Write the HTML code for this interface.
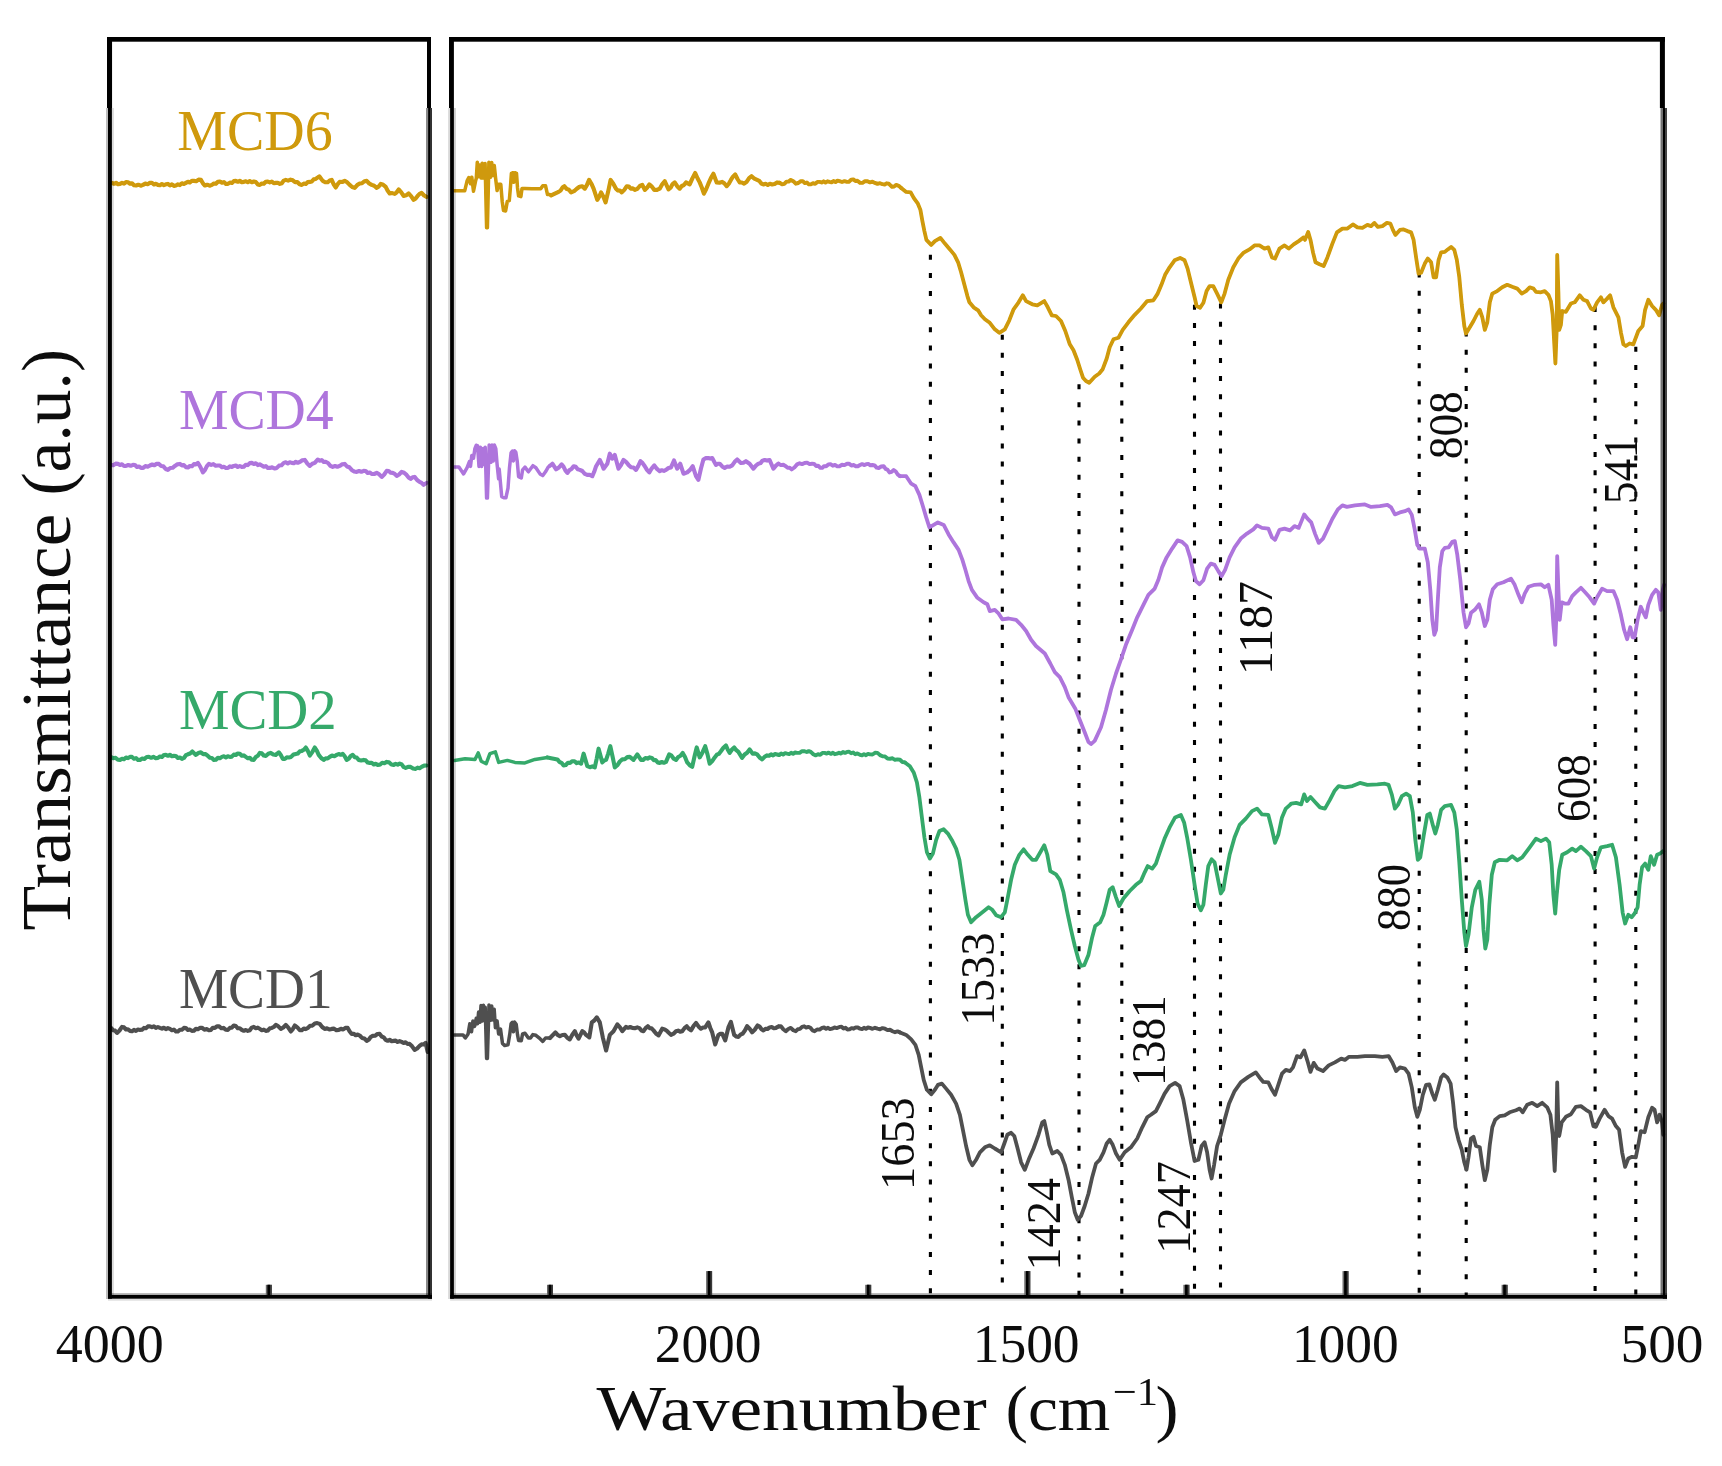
<!DOCTYPE html>
<html lang="en"><head><meta charset="utf-8"><title>FTIR spectra</title>
<style>
html,body{margin:0;padding:0;background:#fff;}
body{width:1722px;height:1466px;overflow:hidden;}
svg{display:block;}
text{font-family:"Liberation Serif","DejaVu Serif",serif;}
</style></head><body>
<svg width="1722" height="1466" viewBox="0 0 1722 1466">
<defs><filter id="soft" x="-2%" y="-2%" width="104%" height="104%"><feGaussianBlur stdDeviation="0.55"/></filter>
<filter id="soft2" x="-2%" y="-2%" width="104%" height="104%"><feGaussianBlur stdDeviation="0.6"/></filter></defs>
<rect x="0" y="0" width="1722" height="1466" fill="#fff"/>

<g stroke="#000" stroke-width="3.1" fill="none" filter="url(#soft2)">
<line x1="930.4" y1="254.8" x2="930.4" y2="1295" stroke-dasharray="5 13.13"/>
<line x1="1002.3" y1="334.7" x2="1002.3" y2="1295" stroke-dasharray="5 13.13"/>
<line x1="1079" y1="384.2" x2="1079" y2="1295" stroke-dasharray="5 13.13"/>
<line x1="1121.8" y1="346.1" x2="1121.8" y2="1295" stroke-dasharray="5 13.13"/>
<line x1="1194.5" y1="304.8" x2="1194.5" y2="1295" stroke-dasharray="5 13.13"/>
<line x1="1220.5" y1="303.5" x2="1220.5" y2="1295" stroke-dasharray="5 13.13"/>
<line x1="1419.2" y1="272.5" x2="1419.2" y2="1295" stroke-dasharray="5 13.13"/>
<line x1="1466.2" y1="331.5" x2="1466.2" y2="1295" stroke-dasharray="5 13.13"/>
<line x1="1595.1" y1="307.0" x2="1595.1" y2="1295" stroke-dasharray="5 13.13"/>
<line x1="1635.8" y1="346.8" x2="1635.8" y2="1295" stroke-dasharray="5 13.13"/>
</g>
<g filter="url(#soft)">
<polyline points="112.0,182.9 114.0,183.8 116.0,182.8 118.0,184.2 120.0,183.9 122.0,182.9 124.0,183.7 126.0,182.1 128.0,182.3 130.0,183.7 132.0,183.3 134.0,185.3 136.0,185.5 138.3,184.7 140.7,185.7 143.0,184.9 145.3,183.6 147.6,184.2 149.9,182.9 151.9,182.8 153.9,184.5 155.9,183.8 157.9,184.9 159.9,185.3 161.9,184.0 163.9,185.1 165.9,184.3 167.9,183.9 169.9,185.4 171.9,184.4 173.9,185.9 175.9,185.5 177.9,184.4 179.9,185.1 181.9,183.3 183.9,184.0 185.9,182.9 187.9,181.8 189.9,182.5 191.9,180.8 193.9,180.9 196.2,181.2 198.6,179.6 200.9,179.9 202.9,183.3 204.9,185.5 207.2,184.7 209.6,185.7 211.9,184.9 213.9,183.5 215.9,183.8 217.9,181.8 219.9,181.5 221.9,182.7 223.9,182.1 225.9,183.9 227.9,183.9 229.9,182.6 231.9,183.0 233.8,181.1 235.8,180.9 237.8,181.8 239.8,180.8 241.8,182.2 243.8,181.9 245.8,181.2 247.8,182.3 249.8,181.1 251.8,182.2 253.8,181.5 255.8,182.0 257.8,184.4 259.8,184.9 261.8,183.5 263.8,183.8 265.8,181.8 267.8,181.5 269.8,182.4 271.8,181.6 273.8,183.2 275.8,182.9 277.8,182.8 279.8,183.9 281.8,183.2 283.8,180.6 285.8,179.9 288.1,180.6 290.5,179.6 292.8,180.3 295.1,182.1 297.3,182.0 299.6,184.3 301.8,184.9 303.8,183.6 305.8,184.0 307.8,182.1 309.8,181.9 311.8,181.5 313.7,179.3 315.7,178.9 319.3,176.3 322.7,180.9 325.2,182.2 327.7,182.3 329.7,180.5 331.7,179.9 333.7,184.3 335.7,187.5 337.7,184.1 339.7,181.9 342.2,182.0 344.7,180.9 347.2,182.3 349.7,184.9 352.2,187.0 354.7,187.9 357.2,185.1 359.7,183.5 362.0,183.2 364.4,181.2 366.7,180.9 369.2,183.5 371.7,184.9 374.2,185.8 376.7,187.9 378.7,186.5 380.7,183.9 383.2,184.8 385.7,186.9 387.7,190.8 389.7,193.5 392.2,193.1 394.7,193.9 396.7,192.3 398.7,189.5 401.1,192.1 403.6,195.9 406.1,195.3 408.6,193.5 411.1,196.1 413.6,199.9 415.6,198.5 417.6,195.9 419.6,193.8 421.6,192.9 424.1,195.5 426.6,196.9" fill="none" stroke="#CF9907" stroke-width="4.1" stroke-linejoin="round" stroke-linecap="round"/>
<polyline points="454.1,190.8 464.7,190.8 467.1,180.9 468.8,177.5 470.5,183.7 471.8,177.2 473.5,191.2 475.6,180.9 476.3,178.2 477.3,162.2 478.5,176.8 479.7,164.9 481.0,177.9 482.2,163.2 483.4,177.9 485.1,163.5 486.6,227.7 487.4,227.7 488.9,162.2 490.6,177.2 491.7,162.5 493.1,175.5 494.3,165.6 495.6,178.2 497.1,190.5 498.8,184.3 500.8,184.3 502.2,201.4 503.5,210.6 505.6,210.9 507.3,201.4 509.3,200.7 510.4,187.7 511.4,173.4 513.1,172.7 513.8,182.3 514.8,172.7 516.5,173.4 517.5,187.7 518.6,195.9 520.9,196.6 522.0,188.4 525.0,188.4 531.9,188.8 540.7,188.8 542.8,185.7 545.5,185.7 547.5,194.6 550.0,194.6 551.1,195.4" fill="none" stroke="#CF9907" stroke-width="3.5" stroke-linejoin="round" stroke-linecap="round"/>
<polyline points="551.1,195.4 558.6,191.9 560.5,190.6 562.5,187.5 564.4,186.2 566.6,188.9 568.9,189.7 571.1,192.4 574.0,191.2 576.8,188.7 579.5,186.8 582.3,186.2 584.8,188.7 587.0,184.9 589.1,179.9 591.4,183.7 593.6,188.7 597.3,199.9 599.2,196.8 601.1,192.4 603.4,196.8 605.6,202.4 608.1,191.8 610.6,179.9 613.3,183.7 616.0,188.7 617.9,190.5 619.9,190.6 621.8,192.4 624.3,189.9 626.8,186.2 628.8,186.5 630.8,188.7 632.8,188.4 634.8,189.9 637.3,188.8 639.8,186.0 642.3,184.9 644.8,189.9 647.0,187.8 649.3,184.4 651.8,186.6 654.3,189.9 657.0,189.9 659.7,188.7 662.2,184.3 664.7,181.2 668.5,189.4 670.6,187.7 672.6,184.1 674.7,182.4 677.2,186.2 679.7,188.7 681.8,186.0 683.9,185.1 686.0,182.4 689.7,184.4 692.5,178.1 695.2,173.0 697.5,178.3 699.7,182.4 701.8,187.5 703.9,193.7 706.1,189.3 708.4,183.7 710.9,178.1 713.4,173.7 716.7,182.4 719.5,182.8 722.2,181.9 724.5,183.5 726.7,186.2 728.8,183.7 730.9,179.9 733.0,176.6 735.2,174.4 737.5,179.0 739.7,182.4 741.9,182.5 744.1,183.7 746.6,181.8 749.1,178.1 751.6,176.2 754.4,178.7 757.1,179.9 759.2,180.8 761.3,183.5 763.4,184.4 765.6,183.8 767.8,185.0 769.9,183.8 772.1,184.4 774.6,184.0 777.1,182.4 779.6,182.8" fill="none" stroke="#CF9907" stroke-width="4.1" stroke-linejoin="round" stroke-linecap="round"/>
<polyline points="779.6,182.8 782.1,184.4 784.3,183.9 786.5,181.6 788.6,181.6 790.8,179.9 793.3,181.2 795.8,183.7 798.3,183.0 800.8,181.2 802.8,181.2 804.8,183.1 806.8,182.5 808.8,184.4 810.8,184.4 813.0,183.2 815.2,183.8 817.4,181.9 819.6,181.9 821.6,182.5 823.6,181.3 825.5,182.5 827.5,181.3 829.5,181.9 831.5,182.4 833.5,181.0 835.5,182.1 837.5,180.7 839.5,181.2 842.0,182.0 844.5,181.1 847.0,181.9 849.1,181.7 851.2,179.6 853.3,179.4 855.4,181.0 857.4,180.8 859.5,182.4 860.0,182.9 862.5,182.9 865.0,181.2 867.5,181.2 870.0,182.4 872.5,181.7 875.0,182.9 877.5,183.9 880.0,183.2 882.5,184.2 884.6,184.6 886.6,183.3 888.7,183.7 892.0,186.9 894.1,186.5 896.2,184.9 898.7,185.8 901.2,187.9" fill="none" stroke="#CF9907" stroke-width="3.9" stroke-linejoin="round" stroke-linecap="round"/>
<polyline points="901.2,187.9 906.2,191.9 910.7,192.4 913.7,197.9 917.9,203.7 920.4,209.9 922.4,221.1 924.4,231.1 926.4,239.9 931.2,244.9 934.9,241.1 940.4,237.9 944.9,243.6 949.9,249.4 954.4,254.9 958.1,262.3 961.1,272.3 964.4,284.8 967.4,296.1 969.4,302.3 973.6,307.3 978.1,310.3 981.1,315.3 984.9,319.3 989.8,322.8 994.8,329.3 999.3,332.8 1004.8,329.3 1009.3,320.3 1013.6,309.3 1018.6,302.3 1022.8,295.3 1026.1,301.1 1032.3,304.3 1037.3,305.3 1044.3,301.1 1047.8,307.3 1051.8,315.3 1056.0,316.0 1061.0,321.0 1065.3,331.0 1069.8,344.3 1073.5,350.2 1077.2,359.7 1080.2,369.2 1083.0,377.7 1086.0,381.0 1089.2,382.7 1094.7,376.7 1099.2,373.5 1102.7,369.2 1106.7,358.5 1109.7,347.2 1113.5,339.3 1118.4,337.8 1122.7,329.8 1128.4,322.3 1134.7,314.8 1140.9,308.5 1147.2,301.1 1153.4,300.3 1157.7,293.6 1161.4,284.8 1165.1,274.8 1169.6,267.3 1174.6,260.3 1180.1,257.9 1184.6,260.3 1187.6,268.6 1190.9,282.3 1194.6,297.3 1196.6,306.0 1200.1,307.8 1203.4,302.8 1206.6,291.1 1209.6,286.1 1213.3,286.1 1217.1,293.6 1221.3,302.3 1224.6,293.6 1228.3,279.8 1233.3,267.3 1238.3,258.6 1243.3,252.9 1249.5,249.4 1254.5,245.4 1259.5,245.4 1264.5,248.6 1268.3,247.4 1272.0,257.4 1275.0,258.6 1279.5,248.6 1284.5,245.4 1288.7,248.6 1293.7,244.4 1298.7,241.1 1303.7,237.4 1305.0,239.9 1308.2,231.9 1310.5,239.9 1313.0,252.4 1315.5,262.3 1319.5,264.3 1323.7,266.1 1327.4,257.4 1332.4,243.6 1336.9,232.4 1342.4,228.6 1347.4,228.6 1352.9,224.4 1357.4,227.4 1362.4,227.9 1367.4,224.9 1371.1,226.1 1374.4,222.9 1377.9,226.9 1382.4,226.1 1386.9,222.9 1390.4,223.6 1392.9,229.9 1395.4,234.9 1399.9,229.9 1403.6,229.4 1407.4,231.1 1411.1,232.4 1413.6,239.9 1416.1,257.4 1418.6,273.6 1421.1,272.8 1424.8,263.6 1427.8,258.6 1431.1,262.3 1433.6,277.3 1436.1,277.3 1438.6,259.8 1441.1,252.4 1444.8,251.9 1447.8,249.4 1451.1,246.9 1454.3,249.9 1456.8,259.8 1459.3,277.3 1461.8,304.8 1464.3,326.0 1466.0,333.5 1469.8,327.3 1473.5,321.0 1477.3,313.5 1479.8,309.8 1482.3,317.3 1484.8,329.8 1487.3,322.3 1489.8,302.3 1492.3,293.6 1497.2,291.1 1502.2,287.3 1507.2,284.8 1512.2,286.8 1517.2,288.6 1521.7,293.6 1526.0,291.1 1529.7,287.3 1533.5,288.6 1536.0,291.8 1540.9,292.3 1544.7,291.1 1548.4,294.8 1550.9,301.1 1552.7,314.8 1554.2,342.3 1555.4,363.5 1556.7,329.8 1557.2,254.9 1558.4,292.3 1559.2,329.8 1560.9,324.8 1562.2,311.0 1565.9,311.8 1570.9,303.5 1574.7,302.3 1579.7,295.3 1583.4,299.8 1587.1,301.1 1590.9,308.5 1593.4,309.8 1597.1,302.3 1600.9,297.3 1603.4,302.3 1607.1,298.6 1610.1,295.3 1613.4,307.3 1618.4,317.3 1620.9,332.3 1623.4,344.3 1625.8,346.0 1629.6,343.5 1633.3,344.3 1638.3,331.0 1642.6,326.0 1645.1,309.8 1648.3,299.8 1652.1,306.0 1655.8,309.8 1659.1,315.3 1662.1,304.8 1663.3,303.5" fill="none" stroke="#CF9907" stroke-width="3.8" stroke-linejoin="round" stroke-linecap="round"/>
<polyline points="111.0,464.9 113.3,465.2 115.7,463.6 118.0,463.9 120.0,465.0 122.0,464.3 124.0,466.0 126.0,465.9 128.3,465.0 130.7,465.8 133.0,464.9 135.0,465.0 137.0,467.0 139.0,466.5 141.0,467.9 143.2,467.9 145.4,466.1 147.7,466.7 149.9,465.5 152.2,464.5 154.4,465.3 156.7,463.7 158.9,463.9 161.2,466.0 163.4,466.3 165.7,469.0 167.9,469.9 170.2,468.0 172.6,467.8 174.9,465.9 177.4,464.3 179.9,463.9 181.9,465.4 183.9,465.1 185.9,467.2 187.9,467.5 189.9,466.0 191.9,466.3 193.9,464.1 195.9,464.4 197.9,462.9 200.4,467.0 202.9,472.3 204.9,470.1 206.9,466.1 208.9,463.9 211.2,464.9 213.4,464.1 215.7,465.7 217.9,465.5 219.9,465.5 221.9,467.3 223.9,466.7 225.9,467.9 227.9,468.0 229.9,466.3 231.8,467.0 233.8,465.9 235.8,465.5 237.8,467.0 239.8,466.0 241.8,466.9 243.8,466.7 245.8,464.7 247.8,465.1 249.8,463.1 251.8,462.9 253.8,464.0 255.8,463.3 257.8,465.1 259.8,464.4 261.8,465.5 263.8,466.7 265.8,466.1 267.8,467.9 269.8,467.9 272.1,467.3 274.5,468.5 276.8,467.9 279.1,465.6 281.5,465.2 283.8,462.9 285.8,462.3 287.8,463.5 289.8,462.3 291.8,462.9 293.8,463.2 295.8,461.8 297.8,462.8 299.8,461.9 302.3,460.3 304.8,459.9 307.3,463.5 309.8,465.9 312.3,463.8 314.8,462.9 317.7,459.5 319.7,460.7 321.7,460.1 323.7,461.9 325.7,461.9 328.0,463.0 330.4,465.8 332.7,466.9 335.0,466.0 337.4,466.8 339.7,465.9 342.2,464.3 344.7,463.9 347.0,466.5 349.4,467.3 351.7,469.9 354.2,471.5 356.7,471.9 359.0,471.0 361.4,471.8 363.7,470.9 365.7,471.0 367.7,473.0 369.7,472.5 371.7,473.9 374.2,474.0 376.7,472.9 379.2,474.3 381.7,476.9 384.2,474.5 386.7,470.9 388.7,471.0 390.7,472.8 392.7,472.9 394.7,473.8 396.7,475.9 399.1,474.5 401.6,471.9 404.1,472.8 406.6,474.9 408.6,477.5 410.6,478.9 412.6,477.3 414.6,476.9 417.1,480.0 419.6,481.9 421.6,482.8 423.6,484.9 426.6,482.9" fill="none" stroke="#AE74DC" stroke-width="4.1" stroke-linejoin="round" stroke-linecap="round"/>
<polyline points="454.1,467.1 458.9,467.1 463.6,473.9 467.1,467.7 469.4,461.6 470.5,466.4 471.8,455.5 473.5,458.2 474.9,448.6 476.3,445.2 477.6,445.9 479.0,466.4 480.4,447.3 481.7,466.4 483.1,448.6 483.9,464.3 485.2,447.3 486.6,498.1 487.4,498.1 489.2,444.9 490.9,462.3 492.0,444.9 493.3,460.9 494.3,444.9 495.8,448.6 497.1,464.3 498.6,478.7 499.2,469.1 501.7,496.7 503.9,497.8 505.9,497.8 508.0,488.2 509.5,467.7 511.1,452.7 512.4,451.0 513.4,460.9 514.5,450.7 515.8,452.1 517.2,460.9 518.6,476.6 521.3,478.0 522.6,469.8 525.0,467.1 528.4,471.8 532.9,465.7 535.9,467.7 540.0,473.9 542.8,475.6 545.5,471.8 548.2,467.1 550.0,465.7" fill="none" stroke="#AE74DC" stroke-width="3.5" stroke-linejoin="round" stroke-linecap="round"/>
<polyline points="550.0,465.7 552.4,463.7 556.1,469.4 558.9,467.5 561.6,464.4 563.5,466.6 565.5,470.7 567.4,472.9 569.5,470.1 571.5,469.0 573.6,466.2 575.7,466.8 577.7,469.3 579.8,469.9 582.3,471.0 584.8,473.8 587.3,474.9 589.8,474.9 592.3,476.2 594.2,471.8 596.1,466.2 599.8,460.0 601.7,463.8 603.6,468.7 607.3,463.7 609.8,453.7 612.3,458.7 614.8,455.0 618.5,468.7 621.0,465.0 623.5,460.0 626.0,461.8 628.5,464.9 631.0,467.2 633.5,467.6 636.0,469.9 638.2,466.1 640.5,461.2 642.6,463.1 644.8,466.2 647.0,469.9 649.3,472.4 651.8,468.3 654.3,465.4 657.0,468.9 659.7,471.2 661.8,470.2 663.9,470.9 666.0,469.9 668.5,468.0 671.0,467.4 674.0,460.5 677.2,468.7 680.2,463.7 683.5,473.7 687.2,472.4 690.0,469.9 692.7,466.2 696.0,476.2 698.4,479.9 700.9,468.7 703.4,459.5 705.9,458.1 708.4,458.0 710.3,458.6 712.2,458.0 715.9,464.9 717.8,463.7 719.7,463.7 722.2,466.4 724.7,467.9 727.2,466.5 729.7,466.8 732.2,465.4 734.7,461.8 737.2,459.5 740.9,463.0 743.4,462.7 745.9,461.2 749.6,463.7 753.4,468.7 755.9,465.6 758.4,463.7 760.5,463.1 762.5,460.6 764.6,460.0 767.1,460.6 769.6,460.0 773.4,468.7 775.9,465.6 778.4,463.7" fill="none" stroke="#AE74DC" stroke-width="4.1" stroke-linejoin="round" stroke-linecap="round"/>
<polyline points="778.4,463.7 780.9,465.1 783.3,464.8 785.8,466.2 787.7,467.9 789.7,467.7 791.6,469.4 794.4,467.5 797.1,464.4 799.6,463.3 802.1,464.1 804.6,463.0 807.1,462.6 809.6,464.1 812.1,463.7 814.1,463.9 816.1,466.0 818.1,465.6 820.1,467.7 822.1,467.9 824.2,466.1 826.2,466.2 828.3,464.4 830.5,464.2 832.8,465.7 835.0,464.9 837.3,466.4 839.5,466.2 842.0,464.8 844.5,465.1 847.0,463.7 849.2,463.7 851.4,465.6 853.6,465.0 855.8,466.2 857.9,466.2 860.0,465.0 862.1,464.1 864.1,465.1 866.2,464.2 868.3,463.9 870.4,465.3 872.5,465.0 874.6,465.4 876.6,467.6 878.7,468.0 881.2,466.5 883.7,466.2 885.6,468.9 887.6,469.8 889.5,472.5 891.6,471.9 893.7,470.0 895.8,471.5 897.9,474.7 900.0,476.2" fill="none" stroke="#AE74DC" stroke-width="3.9" stroke-linejoin="round" stroke-linecap="round"/>
<polyline points="900.0,476.2 906.2,476.2 911.2,483.7 915.4,486.2 919.4,494.9 922.9,506.2 926.2,517.4 929.4,527.4 933.7,524.9 937.9,522.4 943.7,524.9 948.6,534.4 953.6,542.4 958.6,549.9 962.4,559.9 965.4,569.8 968.6,581.1 971.9,589.8 977.4,597.8 983.6,602.3 987.4,604.3 989.8,611.1 994.8,609.8 998.6,613.5 1002.3,619.3 1008.6,618.5 1016.1,619.8 1021.1,624.8 1026.1,631.0 1031.1,639.8 1036.0,646.0 1044.8,653.5 1050.3,663.5 1054.8,672.2 1059.8,677.2 1064.8,687.2 1068.5,697.2 1075.2,708.4 1079.7,719.7 1084.7,732.2 1088.5,742.1 1091.0,744.1 1094.7,740.9 1101.0,727.2 1106.0,709.7 1111.0,689.7 1116.0,673.5 1120.9,659.7 1125.9,644.8 1132.2,629.8 1137.2,617.3 1143.4,604.8 1148.4,594.8 1154.7,588.6 1158.4,579.8 1162.1,567.4 1166.6,557.4 1172.1,548.6 1177.6,540.4 1182.1,541.9 1186.6,546.1 1190.1,557.4 1193.4,572.3 1195.9,581.1 1199.6,584.3 1203.4,580.3 1207.1,568.6 1210.8,563.6 1214.6,564.9 1218.3,571.1 1221.6,576.1 1225.1,569.8 1229.6,557.4 1234.6,547.4 1240.8,538.6 1247.0,533.6 1253.3,529.4 1257.0,525.4 1262.0,527.9 1268.3,528.6 1272.0,537.4 1275.0,539.9 1279.5,529.9 1284.5,528.6 1290.0,530.4 1294.5,526.1 1298.7,527.9 1302.0,519.9 1304.2,514.4 1307.5,518.7 1311.2,522.4 1315.0,533.6 1318.7,542.9 1323.0,538.6 1327.4,529.4 1332.4,518.7 1337.9,509.4 1342.4,505.4 1346.9,506.9 1354.9,505.4 1364.9,504.4 1371.1,506.9 1379.9,506.2 1387.4,504.9 1391.1,507.4 1394.9,514.4 1399.9,512.4 1404.9,511.2 1408.6,509.4 1411.8,514.9 1414.8,529.9 1417.3,544.9 1419.8,548.6 1424.8,548.6 1427.8,562.4 1430.3,589.8 1432.3,619.8 1434.3,634.8 1436.1,629.8 1437.8,599.8 1439.8,567.4 1442.3,551.1 1444.8,547.9 1448.6,547.4 1452.3,541.9 1454.8,541.1 1457.3,554.9 1460.3,579.8 1463.5,612.3 1466.0,627.3 1468.5,623.5 1471.0,612.8 1474.8,609.8 1479.0,604.3 1481.8,612.3 1484.8,626.0 1487.3,619.8 1489.8,599.8 1492.8,589.3 1497.2,584.3 1503.5,582.3 1511.0,578.6 1514.7,584.8 1518.5,594.8 1521.7,602.3 1524.7,593.6 1528.5,586.8 1534.7,584.8 1540.9,584.3 1544.7,587.3 1548.4,584.8 1551.7,599.8 1553.4,624.8 1555.2,644.8 1556.4,614.8 1557.2,556.1 1558.4,589.8 1559.7,619.8 1561.7,602.3 1564.7,603.6 1568.4,603.6 1572.2,596.1 1575.9,592.3 1580.9,587.8 1585.1,592.3 1589.6,597.3 1594.1,603.6 1597.1,597.3 1602.1,588.6 1607.1,591.1 1613.4,591.1 1617.1,599.8 1620.9,614.8 1624.1,629.8 1627.1,639.3 1630.3,627.3 1632.6,637.3 1634.6,637.3 1637.6,619.8 1640.8,606.8 1643.3,612.3 1645.8,617.3 1648.3,604.8 1652.1,594.8 1655.8,589.8 1658.3,592.3 1660.8,609.8 1662.8,589.8 1664.1,584.8" fill="none" stroke="#AE74DC" stroke-width="3.8" stroke-linejoin="round" stroke-linecap="round"/>
<polyline points="111.0,756.9 113.2,758.2 115.5,757.8 117.8,759.8 120.0,759.9 122.0,758.7 124.0,759.3 126.0,757.5 128.0,758.1 130.0,756.9 132.0,756.9 134.0,758.7 136.0,758.1 138.0,759.9 140.0,759.9 142.2,758.5 144.4,759.0 146.7,757.0 148.9,756.9 151.2,757.8 153.4,756.8 155.7,758.2 157.9,757.9 159.9,756.5 161.9,757.0 163.9,755.0 165.9,754.9 167.9,755.8 169.9,754.8 171.9,756.2 173.9,755.9 175.9,756.0 177.9,758.0 179.9,757.5 181.9,758.9 183.9,758.0 185.9,755.2 187.9,754.3 190.1,753.5 192.3,751.5 195.9,754.9 198.4,753.0 200.9,752.3 203.2,754.1 205.6,754.1 207.9,755.9 209.9,757.8 211.9,758.0 213.9,759.9 215.9,759.8 217.9,757.8 219.9,758.2 221.9,756.9 223.9,756.3 225.9,757.5 227.8,756.3 229.8,756.9 231.8,756.6 233.8,754.6 235.8,755.0 237.8,753.5 239.8,753.8 241.8,755.8 243.8,755.4 245.8,756.9 247.8,758.2 249.8,757.8 251.8,759.8 253.8,759.9 255.8,757.0 257.8,755.8 259.8,752.9 261.8,753.3 263.8,755.5 265.8,755.9 268.3,753.8 270.8,752.9 273.3,754.5 275.8,754.9 278.8,752.3 280.8,755.0 282.8,758.9 284.8,759.0 286.8,757.4 288.8,757.5 291.1,756.9 293.5,754.5 295.8,753.9 297.8,753.5 299.8,751.3 301.8,750.9 303.8,749.8 305.8,747.5 307.8,750.9 309.8,755.5 312.3,752.1 314.8,747.5 316.8,750.6 318.7,754.9 321.2,758.0 323.7,759.9 325.7,758.3 327.7,758.5 329.7,756.9 332.0,755.6 334.4,756.2 336.7,754.9 338.7,754.0 340.7,754.8 342.7,753.9 344.7,756.3 346.7,759.9 348.7,758.8 350.7,756.0 352.7,754.9 354.7,757.2 356.7,757.6 358.7,759.9 361.2,760.5 363.7,759.9 365.7,760.3 367.7,762.5 369.7,762.9 371.7,762.8 373.7,764.5 375.7,763.8 377.7,764.9 379.9,764.8 382.2,762.8 384.4,763.2 386.7,761.9 389.0,762.3 391.4,764.5 393.7,764.9 395.7,763.8 397.7,764.6 399.7,763.5 401.7,764.4 403.6,767.0 405.6,767.9 408.1,766.8 410.6,766.9 413.1,768.5 415.6,768.9 417.6,767.6 419.6,768.2 421.6,766.9 424.1,765.6 426.6,765.5" fill="none" stroke="#35A96B" stroke-width="4.1" stroke-linejoin="round" stroke-linecap="round"/>
<polyline points="454.5,760.4 465.0,758.7 475.0,759.4 478.2,752.9 481.2,761.2 486.2,763.7 489.9,753.7 495.4,751.9 498.7,762.4 507.4,760.4 514.9,762.4 524.9,762.9 534.9,759.4 547.4,757.4" fill="none" stroke="#35A96B" stroke-width="3.5" stroke-linejoin="round" stroke-linecap="round"/>
<polyline points="547.4,757.4 557.4,759.4 559.5,762.0 561.5,762.8 563.6,765.4 565.8,765.0 568.0,762.7 570.1,762.9 572.3,761.2 574.5,761.2 576.7,763.1 578.9,762.5 581.1,763.7 583.6,753.7 587.3,766.2 589.8,767.2 592.3,766.4 594.8,767.4 596.7,758.6 598.6,748.7 602.3,762.4 604.2,760.5 606.1,759.9 608.2,753.6 610.3,746.2 612.5,756.2 614.8,767.4 617.3,765.3 619.8,761.5 622.3,759.4 624.8,759.2 627.3,757.1 629.8,756.9 633.5,759.9 637.3,754.4 641.0,759.9 643.2,759.9 645.4,758.0 647.6,758.6 649.8,757.4 651.8,757.9 653.8,760.2 655.7,760.1 657.7,762.4 659.7,762.9 661.8,762.0 663.9,762.8 666.0,761.9 669.2,754.4 671.5,755.6 673.7,758.7 676.0,759.9 678.2,757.0 680.5,755.8 682.7,752.9 685.0,757.0 687.2,762.4 689.7,765.2 692.2,766.9 694.5,756.5 696.7,747.4 699.7,757.4 702.5,752.4 705.2,746.2 707.5,754.4 709.7,763.7 712.2,761.1 714.7,757.4 716.8,754.7 718.8,753.9 720.9,751.2 723.4,747.7 725.9,745.4 727.8,749.8 729.7,752.9 732.0,749.5 734.2,747.4 736.3,750.2 738.4,751.9 742.1,757.9 744.6,754.5 747.1,752.8 749.6,749.4 752.6,753.7 754.9,753.4 757.1,754.4 759.6,757.5 762.1,759.4 764.6,756.8 767.1,755.4 769.1,755.8 771.1,754.4 773.1,755.4 775.1,754.0 777.1,754.4 779.1,754.9" fill="none" stroke="#35A96B" stroke-width="4.1" stroke-linejoin="round" stroke-linecap="round"/>
<polyline points="779.1,754.9 781.1,753.5 783.1,754.6 785.1,753.2 787.1,753.7 789.1,754.1 791.1,752.8 793.1,753.8 795.1,752.5 797.1,752.9 799.6,752.9 802.1,751.2 804.6,751.2 806.7,752.0 808.7,751.1 810.8,751.9 813.3,754.2 815.8,755.4 818.0,754.2 820.2,754.8 822.4,752.9 824.6,752.9 826.7,753.6 828.7,752.6 830.8,753.9 832.9,752.8 834.9,754.2 837.0,753.7 839.0,752.7 841.0,753.6 843.0,752.0 845.0,752.9 847.0,751.9 849.1,751.7 851.2,753.3 853.2,752.5 855.3,754.2 857.4,753.4 859.5,754.4 860.0,754.9 862.0,755.4 864.0,754.1 866.0,755.2 868.0,753.9 870.0,754.4 872.5,754.5 875.0,752.8 877.5,752.9 880.0,755.1 882.5,756.2 885.0,756.4 887.5,758.5 890.0,758.7 892.5,758.3 895.0,759.8 897.5,759.4 900.0,759.8 902.4,762.0 904.9,762.4" fill="none" stroke="#35A96B" stroke-width="3.9" stroke-linejoin="round" stroke-linecap="round"/>
<polyline points="904.9,762.4 909.9,766.2 913.7,772.4 916.9,782.4 919.4,797.4 921.9,817.4 924.4,837.3 926.9,852.3 929.9,858.6 932.9,853.6 936.2,839.8 939.4,831.1 943.7,829.3 947.9,833.6 952.4,841.1 956.1,848.6 959.4,859.8 962.4,879.8 965.4,899.8 967.9,914.8 971.1,922.2 976.1,917.2 982.4,912.3 988.6,907.3 992.3,909.8 996.1,915.2 1001.1,917.2 1004.8,912.3 1007.8,897.3 1011.1,879.8 1014.8,864.8 1019.3,854.8 1023.6,849.3 1027.8,854.8 1032.3,859.8 1036.0,859.8 1040.3,852.3 1044.3,845.3 1047.3,854.8 1050.3,871.1 1056.0,874.3 1059.8,879.8 1063.5,892.3 1066.8,909.8 1071.0,929.7 1074.8,946.0 1078.5,959.7 1081.0,965.9 1084.2,965.2 1088.5,954.7 1092.2,937.2 1095.2,926.0 1100.2,922.2 1103.5,914.8 1106.7,902.3 1109.7,889.8 1112.7,887.3 1116.0,897.3 1119.2,906.0 1123.4,898.5 1129.7,891.0 1135.9,884.8 1140.9,881.0 1144.7,872.3 1147.7,866.1 1152.2,868.6 1155.9,863.6 1159.7,852.3 1164.6,838.6 1169.6,827.4 1175.1,817.4 1180.9,814.9 1184.1,822.4 1187.1,837.3 1190.9,859.8 1194.6,884.8 1197.6,903.5 1200.9,910.3 1203.4,904.8 1205.8,884.8 1208.3,866.1 1211.6,859.3 1214.6,862.3 1217.6,877.3 1220.8,893.5 1223.3,889.8 1225.8,874.8 1229.6,854.8 1234.6,837.3 1239.6,824.9 1245.8,818.6 1252.0,811.1 1257.0,808.6 1262.0,814.4 1268.3,814.9 1271.5,827.4 1275.0,842.8 1278.3,834.8 1282.0,817.4 1285.8,808.6 1290.0,804.9 1291.2,803.6 1296.2,802.9 1301.2,804.4 1304.2,794.4 1307.0,801.1 1310.5,796.9 1315.0,801.9 1320.0,807.4 1324.9,808.6 1329.9,799.9 1334.4,791.1 1338.7,786.1 1344.9,787.4 1352.4,786.1 1359.9,782.9 1367.4,784.9 1377.4,784.4 1384.9,783.7 1388.6,784.9 1391.9,794.9 1394.9,808.6 1397.9,804.9 1401.9,796.1 1406.1,793.6 1409.8,796.1 1412.8,812.4 1415.3,839.8 1417.8,859.8 1420.3,857.3 1423.6,836.1 1427.3,814.9 1429.8,813.6 1432.8,824.9 1435.3,833.6 1437.8,824.9 1441.1,809.9 1444.8,806.1 1451.1,804.9 1454.3,812.4 1456.8,829.8 1459.3,862.3 1461.8,899.8 1464.3,932.2 1466.0,946.0 1468.5,934.7 1471.8,907.3 1475.3,889.8 1479.3,881.8 1481.8,899.8 1483.5,929.7 1485.3,948.5 1487.3,939.7 1489.3,904.8 1491.8,874.8 1494.8,862.3 1499.7,859.8 1507.2,860.3 1512.2,856.1 1517.2,860.3 1522.2,857.3 1529.7,847.3 1536.0,838.6 1540.9,841.1 1545.9,838.6 1549.2,842.3 1551.7,864.8 1553.4,894.8 1555.2,913.5 1556.7,894.8 1559.2,869.8 1562.2,854.8 1567.2,852.3 1572.2,848.6 1575.9,851.1 1580.9,846.8 1585.9,851.1 1590.9,856.1 1594.1,868.6 1597.1,857.3 1600.9,847.3 1607.1,846.1 1612.1,844.8 1615.9,857.3 1619.6,884.8 1622.6,912.3 1625.1,923.5 1628.3,914.8 1631.6,917.2 1634.6,913.5 1637.6,907.3 1639.6,884.8 1642.1,867.3 1645.1,863.6 1648.3,869.8 1650.8,856.1 1654.1,864.8 1657.1,854.8 1660.1,853.6 1663.3,851.1" fill="none" stroke="#35A96B" stroke-width="3.8" stroke-linejoin="round" stroke-linecap="round"/>
<polyline points="111.0,1027.9 113.0,1030.2 115.0,1030.6 117.0,1032.9 119.5,1030.5 122.0,1026.9 124.0,1027.3 126.0,1029.5 128.0,1029.3 130.0,1030.9 132.0,1031.3 134.0,1029.9 136.0,1030.9 138.0,1029.5 140.0,1029.9 142.0,1029.8 144.0,1027.9 145.9,1028.3 147.9,1026.4 149.9,1026.3 151.9,1027.2 153.9,1026.3 155.9,1027.9 157.9,1027.0 159.9,1027.9 161.9,1028.7 163.9,1027.7 165.9,1029.1 167.9,1028.1 169.9,1028.9 171.9,1030.2 173.9,1029.6 175.9,1031.4 177.9,1031.5 179.9,1029.7 181.9,1029.7 183.9,1027.9 185.9,1028.1 187.9,1030.0 189.9,1029.6 191.9,1030.9 193.9,1030.8 195.9,1028.8 197.9,1029.2 199.9,1027.9 202.2,1027.9 204.4,1029.7 206.7,1029.1 208.9,1030.3 210.9,1029.9 212.9,1027.7 214.9,1027.9 216.9,1026.3 219.1,1026.4 221.3,1028.3 223.5,1027.9 225.7,1029.8 227.9,1029.9 229.9,1027.8 231.8,1027.6 233.8,1025.5 235.8,1026.0 237.8,1028.3 239.8,1028.2 241.8,1029.9 243.8,1030.8 245.8,1030.0 247.8,1030.9 249.8,1030.2 251.8,1027.6 253.8,1026.9 255.8,1028.2 257.8,1027.6 259.8,1028.9 261.8,1030.2 263.8,1029.6 265.8,1030.9 267.8,1030.5 269.8,1028.3 271.8,1027.9 273.8,1027.0 275.8,1024.9 278.3,1026.3 280.8,1028.9 283.3,1027.5 285.8,1024.9 288.3,1027.6 290.8,1031.5 292.8,1029.1 294.8,1025.5 297.3,1027.3 299.8,1030.3 301.8,1030.3 303.8,1028.5 305.8,1029.1 307.8,1027.9 310.1,1025.8 312.5,1025.6 314.8,1023.5 317.2,1023.1 319.7,1023.9 322.2,1027.0 324.7,1028.9 327.0,1028.3 329.4,1029.5 331.7,1028.9 334.0,1028.6 336.4,1030.2 338.7,1029.9 340.9,1028.8 343.2,1029.5 345.4,1027.8 347.7,1027.9 349.7,1031.5 351.7,1033.9 353.7,1033.7 355.7,1035.3 357.7,1034.5 359.7,1035.5 362.0,1037.9 364.4,1038.5 366.7,1040.9 368.7,1039.8 370.7,1037.0 372.7,1035.9 375.0,1035.8 377.4,1034.0 379.7,1033.9 381.7,1036.5 383.7,1037.3 385.7,1039.9 387.7,1040.8 389.7,1039.8 391.7,1041.2 393.7,1040.9 395.7,1040.6 397.6,1042.0 399.6,1041.1 401.6,1041.9 403.6,1043.0 405.6,1042.3 407.6,1044.0 409.6,1043.9 412.1,1046.3 414.6,1049.9 417.1,1048.5 419.6,1045.9 421.6,1044.3 423.6,1044.5 425.6,1042.9 427.6,1051.9" fill="none" stroke="#4F4F4F" stroke-width="4.1" stroke-linejoin="round" stroke-linecap="round"/>
<polyline points="454.1,1034.9 463.0,1034.9 465.3,1038.0 468.1,1033.9 469.8,1023.7 471.5,1031.8 472.9,1020.9 474.6,1026.4 476.3,1018.2 477.6,1023.7 478.6,1012.1 480.0,1022.3 481.0,1005.6 482.4,1020.9 483.4,1005.2 484.1,1020.2 485.2,1007.3 486.6,1058.4 487.4,1058.4 489.0,1004.9 490.8,1020.2 491.7,1005.9 493.1,1019.9 494.2,1009.3 495.4,1027.7 497.1,1020.9 498.6,1033.9 500.5,1029.1 502.5,1043.4 504.6,1045.5 508.0,1044.8 509.7,1034.6 511.1,1023.7 512.4,1022.3 513.4,1031.8 514.5,1022.0 516.2,1024.3 517.5,1034.6 518.6,1040.4 521.3,1040.7 522.6,1033.9 525.0,1033.2 528.4,1038.0 530.5,1038.0 532.9,1034.6 535.9,1035.3 540.0,1038.7 542.8,1041.4 545.5,1038.0 550.0,1038.0" fill="none" stroke="#4F4F4F" stroke-width="3.5" stroke-linejoin="round" stroke-linecap="round"/>
<polyline points="550.0,1038.0 555.4,1032.4 557.6,1034.9 559.9,1036.2 562.4,1035.0 564.9,1034.9 567.3,1037.8 569.8,1039.4 572.3,1034.7 574.8,1031.2 576.7,1035.5 578.6,1038.7 582.3,1031.2 584.2,1032.5 586.1,1034.9 589.3,1037.4 591.8,1022.4 594.3,1020.5 596.8,1017.4 599.8,1022.4 602.8,1037.4 606.1,1050.4 609.8,1034.9 613.5,1031.2 617.3,1024.4 619.8,1027.2 622.3,1031.2 626.0,1026.9 628.1,1027.8 630.2,1027.0 632.3,1027.9 634.8,1028.2 637.3,1027.4 639.4,1028.1 641.4,1030.5 643.5,1031.2 645.6,1028.1 647.8,1026.2 649.7,1028.2 651.6,1028.4 653.5,1030.4 656.0,1033.5 658.5,1035.4 662.2,1028.7 664.7,1029.4 667.2,1031.2 671.0,1034.9 673.5,1033.7 676.0,1031.2 678.1,1030.6 680.1,1031.8 682.2,1031.2 684.5,1028.1 686.7,1026.2 688.9,1028.9 691.0,1030.4 693.5,1026.1 696.0,1022.9 698.5,1026.4 700.9,1028.7 703.0,1027.5 705.2,1027.4 708.4,1022.4 710.3,1028.0 712.2,1032.4 715.2,1044.4 718.4,1034.9 720.3,1033.7 722.2,1033.7 725.2,1040.4 728.4,1027.4 730.9,1021.9 734.2,1034.9 736.3,1036.5 738.4,1036.9 740.5,1034.7 742.6,1033.7 744.9,1030.5 747.1,1026.2 749.6,1028.7 752.1,1032.4 754.9,1029.5 757.6,1025.4 759.5,1026.5 761.5,1029.3 763.4,1030.4 765.5,1028.8 767.5,1029.0 769.6,1027.4 771.7,1027.0 773.8,1028.3 775.9,1027.9 778.4,1026.5" fill="none" stroke="#4F4F4F" stroke-width="4.1" stroke-linejoin="round" stroke-linecap="round"/>
<polyline points="778.4,1026.5 780.9,1026.2 783.3,1029.3 785.8,1031.2 788.3,1029.0 790.8,1027.9 793.3,1030.2 795.8,1031.2 797.9,1029.2 800.0,1028.9 802.1,1026.9 804.2,1026.3 806.2,1027.5 808.3,1026.9 810.4,1027.7 812.5,1030.4 814.6,1031.2 817.1,1029.5 819.6,1029.6 822.1,1027.9 824.1,1027.5 826.1,1028.8 828.0,1027.8 830.0,1029.1 832.0,1028.7 834.5,1027.5 837.0,1028.1 839.5,1026.9 841.5,1026.8 843.5,1028.5 845.5,1027.8 847.5,1029.5 849.5,1029.4 851.6,1028.1 853.7,1028.7 855.8,1027.4 857.9,1027.5 860.0,1028.7 862.0,1029.1 864.0,1027.8 866.0,1028.8 868.0,1027.5 870.0,1027.9 872.5,1028.8 875.0,1027.8 877.5,1028.7 880.0,1029.3 882.5,1028.1 885.0,1028.7 887.5,1030.1 890.0,1029.8 892.5,1031.2 895.0,1032.2 897.5,1031.4 900.0,1032.4" fill="none" stroke="#4F4F4F" stroke-width="3.9" stroke-linejoin="round" stroke-linecap="round"/>
<polyline points="900.0,1032.4 906.2,1034.9 911.2,1039.4 915.4,1044.9 918.7,1054.9 921.2,1067.4 923.7,1079.9 926.9,1089.8 931.2,1094.3 934.9,1089.8 937.9,1084.9 941.9,1083.6 946.1,1088.6 951.1,1094.8 956.1,1103.6 959.9,1114.8 962.9,1129.8 966.1,1146.0 969.4,1159.8 972.4,1165.3 976.1,1159.8 979.9,1152.3 984.9,1147.3 989.8,1145.3 994.8,1148.5 1001.1,1152.3 1004.3,1143.5 1007.3,1134.8 1011.1,1132.8 1014.3,1136.0 1017.3,1147.3 1021.1,1162.3 1024.8,1169.8 1028.6,1159.8 1033.5,1148.5 1038.5,1134.8 1042.3,1122.3 1044.3,1121.1 1046.8,1132.3 1049.3,1144.8 1052.3,1153.5 1057.3,1151.0 1061.0,1154.8 1064.8,1164.8 1068.5,1179.7 1071.8,1197.2 1074.8,1212.2 1077.7,1219.7 1081.0,1216.0 1084.7,1206.0 1088.5,1193.5 1092.2,1177.2 1096.0,1163.5 1099.7,1159.8 1103.5,1152.3 1106.7,1143.5 1109.7,1139.8 1112.7,1144.8 1116.0,1153.5 1119.7,1159.8 1124.7,1152.3 1130.9,1147.3 1137.2,1138.5 1142.2,1127.3 1147.2,1117.3 1150.9,1114.8 1155.9,1111.1 1159.7,1103.6 1164.6,1093.6 1169.6,1086.1 1175.1,1082.9 1179.6,1086.1 1183.4,1099.8 1187.1,1119.8 1190.9,1142.3 1194.6,1161.0 1198.4,1159.8 1201.6,1146.0 1204.6,1142.3 1207.1,1152.3 1209.6,1169.8 1211.6,1178.5 1214.1,1164.8 1217.1,1146.0 1220.8,1134.8 1224.6,1119.8 1229.1,1103.6 1234.6,1091.1 1240.8,1082.4 1248.3,1076.9 1255.8,1072.4 1259.5,1077.4 1263.3,1081.9 1268.3,1082.4 1272.0,1089.8 1275.0,1094.8 1278.3,1084.9 1282.0,1073.6 1285.8,1069.9 1290.0,1071.1 1293.0,1067.4 1297.0,1056.1 1300.5,1057.4 1304.2,1050.4 1307.5,1061.1 1310.5,1071.9 1313.7,1062.9 1317.5,1068.6 1323.0,1071.1 1328.7,1065.4 1334.9,1062.4 1341.2,1058.6 1344.9,1059.9 1348.7,1056.9 1357.4,1056.9 1364.9,1056.1 1374.9,1056.1 1382.4,1056.9 1388.6,1056.1 1392.4,1062.4 1396.1,1071.1 1399.9,1067.4 1404.9,1068.6 1408.6,1073.6 1411.8,1087.4 1414.8,1107.3 1417.3,1116.8 1419.8,1109.8 1422.8,1094.8 1426.1,1084.9 1429.3,1084.4 1432.3,1093.6 1434.8,1099.8 1437.8,1089.8 1441.1,1077.4 1443.6,1074.4 1447.3,1077.4 1450.6,1083.6 1453.0,1102.3 1455.5,1127.3 1458.5,1139.8 1461.8,1149.8 1464.3,1162.3 1466.5,1169.8 1468.5,1157.3 1471.0,1138.5 1473.5,1136.8 1476.0,1146.0 1479.8,1147.3 1482.3,1164.8 1484.8,1180.2 1487.3,1169.8 1489.8,1144.8 1492.3,1127.3 1495.2,1119.8 1499.7,1116.1 1504.7,1115.3 1509.7,1112.3 1516.0,1110.3 1519.7,1108.6 1522.7,1112.3 1527.2,1104.8 1532.2,1102.8 1537.2,1106.1 1542.2,1102.8 1547.2,1107.3 1550.4,1114.8 1552.7,1134.8 1554.7,1171.0 1556.2,1134.8 1557.2,1082.4 1558.2,1119.8 1559.2,1136.0 1561.7,1122.3 1565.9,1116.8 1570.9,1114.3 1575.9,1106.8 1580.9,1106.1 1585.9,1109.8 1590.1,1112.3 1593.4,1126.1 1595.9,1126.8 1599.6,1118.6 1604.6,1109.8 1608.4,1116.1 1612.1,1118.6 1615.9,1126.1 1619.1,1129.8 1622.1,1152.3 1625.1,1166.8 1628.3,1158.5 1632.1,1156.8 1635.8,1157.3 1638.3,1144.8 1640.8,1131.1 1644.6,1132.3 1648.3,1117.3 1652.1,1107.8 1654.6,1109.8 1657.1,1122.3 1659.6,1114.8 1662.1,1122.3 1663.3,1134.8" fill="none" stroke="#4F4F4F" stroke-width="3.8" stroke-linejoin="round" stroke-linecap="round"/>
</g>
<g>
<!-- soft halos of thin lines -->
<rect x="106" y="108" width="2" height="1191" fill="#000" fill-opacity="0.26"/>
<rect x="111.9" y="108" width="2" height="1187" fill="#000" fill-opacity="0.14"/>
<rect x="426" y="108" width="2.1" height="1187" fill="#000" fill-opacity="0.46"/>
<rect x="430" y="108" width="2" height="1191" fill="#000" fill-opacity="0.8"/>
<rect x="448.1" y="108" width="2" height="1191" fill="#000" fill-opacity="0.15"/>
<rect x="453.9" y="108" width="2" height="1187" fill="#000" fill-opacity="0.19"/>
<rect x="1660.5" y="108" width="2.3" height="1187" fill="#000" fill-opacity="0.55"/>
<rect x="1665" y="108" width="2" height="1191" fill="#000" fill-opacity="0.73"/>
<rect x="108" y="1293.2" width="324" height="1.8" fill="#000" fill-opacity="0.33"/>
<rect x="108" y="1298.7" width="324" height="2" fill="#000" fill-opacity="0.13"/>
<rect x="450.1" y="1293.2" width="1217" height="1.8" fill="#000" fill-opacity="0.33"/>
<rect x="450.1" y="1298.7" width="1217" height="2" fill="#000" fill-opacity="0.13"/>
</g>
<g fill="#000">
<!-- thick top parts -->
<rect x="107" y="37" width="324" height="4.7"/>
<rect x="107" y="37" width="5.05" height="71"/>
<rect x="427" y="37" width="4" height="71"/>
<rect x="449" y="37" width="1215.9" height="4.7"/>
<rect x="449" y="37" width="4.9" height="71"/>
<rect x="1659.9" y="37" width="5" height="71"/>
<!-- thinner lower parts -->
<rect x="108" y="108" width="3.9" height="1190.7"/>
<rect x="428.1" y="108" width="1.9" height="1190.7"/>
<rect x="450.1" y="108" width="3.8" height="1190.7"/>
<rect x="1662.8" y="108" width="2.2" height="1190.7"/>
<rect x="108" y="1295" width="324" height="3.7"/>
<rect x="450.1" y="1295" width="1216.9" height="3.7"/>
</g>

<rect x="265.8" y="1284.8" width="6" height="10.200000000000045" fill="#686868"/><rect x="267.5" y="1284.8" width="4.3" height="10.200000000000045" fill="#3a3a3a"/><rect x="267.5" y="1284.8" width="2.5" height="10.200000000000045" fill="#000"/>
<rect x="547.0" y="1284.8" width="6" height="10.200000000000045" fill="#686868"/><rect x="548.7" y="1284.8" width="4.3" height="10.200000000000045" fill="#3a3a3a"/><rect x="548.7" y="1284.8" width="2.5" height="10.200000000000045" fill="#000"/>
<rect x="865.2" y="1284.8" width="6" height="10.200000000000045" fill="#686868"/><rect x="866.9" y="1284.8" width="4.3" height="10.200000000000045" fill="#3a3a3a"/><rect x="866.9" y="1284.8" width="2.5" height="10.200000000000045" fill="#000"/>
<rect x="1183.4" y="1284.8" width="6" height="10.200000000000045" fill="#686868"/><rect x="1185.1" y="1284.8" width="4.3" height="10.200000000000045" fill="#3a3a3a"/><rect x="1185.1" y="1284.8" width="2.5" height="10.200000000000045" fill="#000"/>
<rect x="1501.6" y="1284.8" width="6" height="10.200000000000045" fill="#686868"/><rect x="1503.3" y="1284.8" width="4.3" height="10.200000000000045" fill="#3a3a3a"/><rect x="1503.3" y="1284.8" width="2.5" height="10.200000000000045" fill="#000"/>
<rect x="706.1" y="1271.1" width="6" height="23.90000000000009" fill="#686868"/><rect x="707.8" y="1271.1" width="4.3" height="23.90000000000009" fill="#3a3a3a"/><rect x="707.8" y="1271.1" width="2.5" height="23.90000000000009" fill="#000"/>
<rect x="1024.3" y="1271.1" width="6" height="23.90000000000009" fill="#686868"/><rect x="1026.0" y="1271.1" width="4.3" height="23.90000000000009" fill="#3a3a3a"/><rect x="1026.0" y="1271.1" width="2.5" height="23.90000000000009" fill="#000"/>
<rect x="1342.5" y="1271.1" width="6" height="23.90000000000009" fill="#686868"/><rect x="1344.2" y="1271.1" width="4.3" height="23.90000000000009" fill="#3a3a3a"/><rect x="1344.2" y="1271.1" width="2.5" height="23.90000000000009" fill="#000"/>
<g filter="url(#soft)">
<text x="177.3" y="150" font-size="56" fill="#CF9907" textLength="155.4" lengthAdjust="spacingAndGlyphs">MCD6</text>
<text x="178.9" y="428.9" font-size="56" fill="#AE74DC" textLength="154.8" lengthAdjust="spacingAndGlyphs">MCD4</text>
<text x="178.9" y="728.9" font-size="56" fill="#35A96B" textLength="157.9" lengthAdjust="spacingAndGlyphs">MCD2</text>
<text x="178.9" y="1007.5" font-size="56" fill="#4F4F4F" textLength="153.8" lengthAdjust="spacingAndGlyphs">MCD1</text>
<text x="55.7" y="1361.5" font-size="55" fill="#111" textLength="108.1" lengthAdjust="spacingAndGlyphs">4000</text>
<text x="654.7" y="1361.5" font-size="55" fill="#111" textLength="106.8" lengthAdjust="spacingAndGlyphs">2000</text>
<text x="972.7" y="1361.5" font-size="55" fill="#111" textLength="106.9" lengthAdjust="spacingAndGlyphs">1500</text>
<text x="1291.9" y="1361.5" font-size="55" fill="#111" textLength="106.9" lengthAdjust="spacingAndGlyphs">1000</text>
<text x="1620.5" y="1361.5" font-size="55" fill="#111" textLength="83.0" lengthAdjust="spacingAndGlyphs">500</text>
<text x="596.5" y="1430.3" font-size="64" fill="#111" textLength="390.2" lengthAdjust="spacingAndGlyphs">Wavenumber</text>
<text x="1005.5" y="1430.3" font-size="64" fill="#111" textLength="104.8" lengthAdjust="spacingAndGlyphs">(cm</text>
<text x="1112.8" y="1405" font-size="40" fill="#111" textLength="45.3" lengthAdjust="spacingAndGlyphs">−1</text>
<text x="1155.6" y="1430.3" font-size="64" fill="#111" textLength="23.1" lengthAdjust="spacingAndGlyphs">)</text>
<text x="70.3" y="930.6" font-size="69" fill="#111" textLength="416.8" lengthAdjust="spacingAndGlyphs" transform="rotate(-90 70.3 930.6)">Transmittance</text>
<text x="70.3" y="495.6" font-size="69" fill="#111" textLength="146.8" lengthAdjust="spacingAndGlyphs" transform="rotate(-90 70.3 495.6)">(a.u.)</text>
<text x="914.2" y="1189.9" font-size="48" fill="#111" textLength="92.6" lengthAdjust="spacingAndGlyphs" transform="rotate(-90 914.2 1189.9)">1653</text>
<text x="994" y="1025.7" font-size="48" fill="#111" textLength="93.4" lengthAdjust="spacingAndGlyphs" transform="rotate(-90 994 1025.7)">1533</text>
<text x="1059.8" y="1270.5" font-size="48" fill="#111" textLength="92.5" lengthAdjust="spacingAndGlyphs" transform="rotate(-90 1059.8 1270.5)">1424</text>
<text x="1164.6" y="1086.0" font-size="48" fill="#111" textLength="90.8" lengthAdjust="spacingAndGlyphs" transform="rotate(-90 1164.6 1086.0)">1381</text>
<text x="1190" y="1253.7" font-size="48" fill="#111" textLength="92.6" lengthAdjust="spacingAndGlyphs" transform="rotate(-90 1190 1253.7)">1247</text>
<text x="1272" y="675.0" font-size="48" fill="#111" textLength="94.0" lengthAdjust="spacingAndGlyphs" transform="rotate(-90 1272 675.0)">1187</text>
<text x="1410" y="930.9" font-size="48" fill="#111" textLength="66.9" lengthAdjust="spacingAndGlyphs" transform="rotate(-90 1410 930.9)">880</text>
<text x="1462" y="459.3" font-size="48" fill="#111" textLength="68.1" lengthAdjust="spacingAndGlyphs" transform="rotate(-90 1462 459.3)">808</text>
<text x="1590" y="821.9" font-size="48" fill="#111" textLength="67.8" lengthAdjust="spacingAndGlyphs" transform="rotate(-90 1590 821.9)">608</text>
<text x="1636.6" y="504.2" font-size="48" fill="#111" textLength="68.4" lengthAdjust="spacingAndGlyphs" transform="rotate(-90 1636.6 504.2)">541</text>
</g>
</svg></body></html>
